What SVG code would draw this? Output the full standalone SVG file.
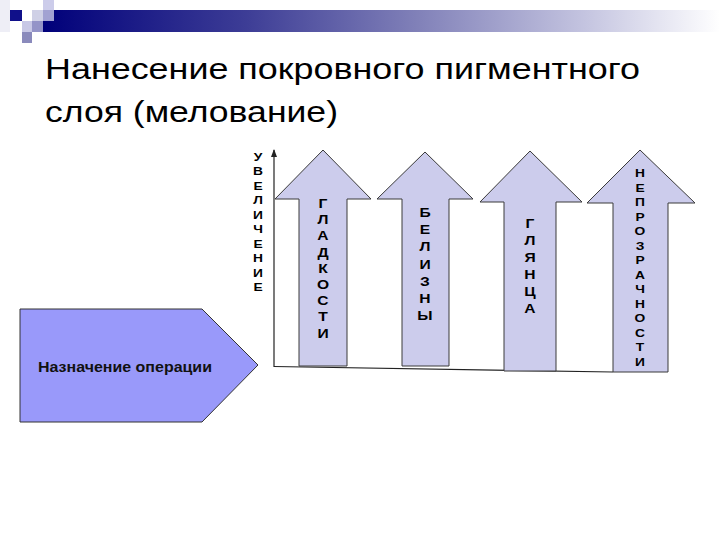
<svg xmlns="http://www.w3.org/2000/svg" width="720" height="540" viewBox="0 0 720 540">
  <defs>
    <linearGradient id="bar" x1="0" y1="0" x2="1" y2="0">
      <stop offset="0" stop-color="#00007a"/>
      <stop offset="0.3" stop-color="#3d3d96"/>
      <stop offset="0.55" stop-color="#8080b8"/>
      <stop offset="0.8" stop-color="#c4c4e0"/>
      <stop offset="1" stop-color="#ffffff"/>
    </linearGradient>
    <marker id="axhead" viewBox="0 0 8 6" refX="7" refY="3" markerWidth="8" markerHeight="6" orient="auto" markerUnits="userSpaceOnUse">
      <path d="M0,0 L8,3 L0,6 Z" fill="#222"/>
    </marker>
    <style>
      .title { font-family: "Liberation Sans", Arial, sans-serif; font-size: 30px; fill: #000; }
      .arrow { fill: #ccccec; stroke: #3a3a3a; stroke-width: 1; }
      .lbl { font-family: "Liberation Sans", Arial, sans-serif; font-weight: 700; font-size: 13px; fill: #000; text-anchor: middle; }
      .lblsm { font-family: "Liberation Sans", Arial, sans-serif; font-weight: 700; font-size: 11.5px; fill: #000; text-anchor: middle; }
      .axis { stroke: #222; stroke-width: 1.2; fill: none; }
    </style>
  </defs>

  <g id="decor">
    <rect x="43" y="10" width="677" height="22" fill="url(#bar)"/>
    <rect x="0" y="0" width="10" height="32" fill="#eeeef6"/>
    <rect x="43" y="0" width="11" height="10" fill="#ccccea"/>
    <rect x="10" y="10" width="12" height="11" fill="#10108a"/>
    <rect x="32" y="10" width="11" height="11" fill="#cfd0e6"/>
    <rect x="43" y="10" width="11" height="11" fill="#a2a2d2"/>
    <rect x="22" y="21" width="10" height="11" fill="#c8c8e6"/>
    <rect x="32" y="21" width="11" height="11" fill="#9494c8"/>
    <rect x="22" y="32" width="10" height="11" fill="#8a8abc"/>
  </g>

  <g id="title">
    <text class="title" x="45" y="79" textLength="595" lengthAdjust="spacingAndGlyphs">Нанесение покровного пигментного</text>
    <text class="title" x="45" y="122" textLength="293" lengthAdjust="spacingAndGlyphs">слоя (мелование)</text>
  </g>

  <g id="connectors">
    <line class="axis" x1="274" y1="367" x2="274" y2="150" marker-end="url(#axhead)"/>
    <line class="axis" x1="274" y1="366.5" x2="613" y2="372"/>
  </g>

  <g id="axis-label" transform="translate(258,0) scale(1.2,1) translate(-258,0)">
    <text class="lblsm" x="258" y="161">
      <tspan x="258" dy="0">У</tspan><tspan x="258" dy="14.5">В</tspan><tspan x="258" dy="14.5">Е</tspan><tspan x="258" dy="14.5">Л</tspan><tspan x="258" dy="14.5">И</tspan><tspan x="258" dy="14.5">Ч</tspan><tspan x="258" dy="14.5">Е</tspan><tspan x="258" dy="14.5">Н</tspan><tspan x="258" dy="14.5">И</tspan><tspan x="258" dy="14.5">Е</tspan>
    </text>
  </g>

  <g id="arrow-gladkosti">
    <polygon class="arrow" points="299,366 299,199 275,199 323,150 371,199 347,199 347,366"/>
    <text class="lbl" x="323" y="208" transform="translate(323,0) scale(1.2,1) translate(-323,0)">
      <tspan x="323" dy="0">Г</tspan><tspan x="323" dy="16.2">Л</tspan><tspan x="323" dy="16.2">А</tspan><tspan x="323" dy="16.2">Д</tspan><tspan x="323" dy="16.2">К</tspan><tspan x="323" dy="16.2">О</tspan><tspan x="323" dy="16.2">С</tspan><tspan x="323" dy="16.2">Т</tspan><tspan x="323" dy="16.2">И</tspan>
    </text>
  </g>

  <g id="arrow-belizny">
    <polygon class="arrow" points="402,366 402,199 377,199 425,152 473,199 449,199 449,366"/>
    <text class="lbl" x="425" y="217" transform="translate(425,0) scale(1.2,1) translate(-425,0)">
      <tspan x="425" dy="0">Б</tspan><tspan x="425" dy="17.2">Е</tspan><tspan x="425" dy="17.2">Л</tspan><tspan x="425" dy="17.2">И</tspan><tspan x="425" dy="17.2">З</tspan><tspan x="425" dy="17.2">Н</tspan><tspan x="425" dy="17.2">Ы</tspan>
    </text>
  </g>

  <g id="arrow-glyanca">
    <polygon class="arrow" points="504,371 504,202 480,202 530,151 582,202 556,202 556,371"/>
    <text class="lbl" x="530" y="228" transform="translate(530,0) scale(1.2,1) translate(-530,0)">
      <tspan x="530" dy="0">Г</tspan><tspan x="530" dy="17">Л</tspan><tspan x="530" dy="17">Я</tspan><tspan x="530" dy="17">Н</tspan><tspan x="530" dy="17">Ц</tspan><tspan x="530" dy="17">А</tspan>
    </text>
  </g>

  <g id="arrow-neprozrachnosti">
    <polygon class="arrow" points="613,372 613,203 587,203 640,150 695,203 668,203 668,372"/>
    <text class="lblsm" x="640" y="177.5" transform="translate(640,0) scale(1.2,1) translate(-640,0)">
      <tspan x="640" dy="0">Н</tspan><tspan x="640" dy="14.5">Е</tspan><tspan x="640" dy="14.5">П</tspan><tspan x="640" dy="14.5">Р</tspan><tspan x="640" dy="14.5">О</tspan><tspan x="640" dy="14.5">З</tspan><tspan x="640" dy="14.5">Р</tspan><tspan x="640" dy="14.5">А</tspan><tspan x="640" dy="14.5">Ч</tspan><tspan x="640" dy="14.5">Н</tspan><tspan x="640" dy="14.5">О</tspan><tspan x="640" dy="14.5">С</tspan><tspan x="640" dy="14.5">Т</tspan><tspan x="640" dy="14.5">И</tspan>
    </text>
  </g>

  <g id="operation">
    <polygon points="20,309 202,309 258,365 202,422 20,422" fill="#9999fa" stroke="#333" stroke-width="1"/>
    <text x="38" y="372" font-family="Liberation Sans, Arial, sans-serif" font-weight="700" font-size="14.5" fill="#111" textLength="174" lengthAdjust="spacingAndGlyphs">Назначение операции</text>
  </g>
</svg>
